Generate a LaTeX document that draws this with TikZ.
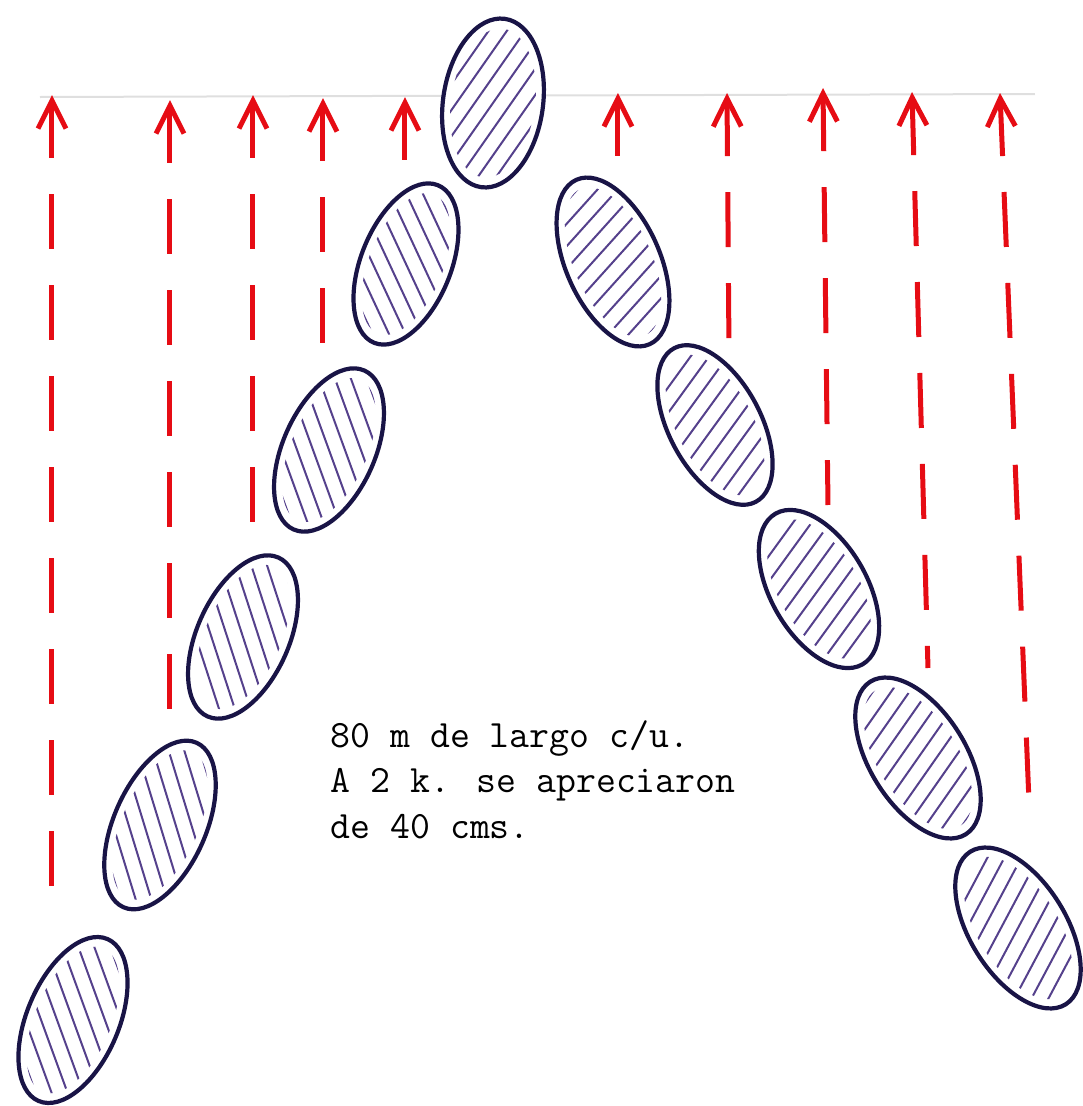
\documentclass[tikz,border=0pt]{standalone}
\usetikzlibrary{arrows.meta}
\definecolor{pen}{RGB}{230,12,20}
\definecolor{ink}{RGB}{25,20,70}
\definecolor{shade}{RGB}{85,65,140}
\begin{document}
\begin{tikzpicture}[x=0.1mm,y=0.1mm,
  flow/.style={draw=pen,line width=0.5mm,dash pattern=on 5.5mm off 3.6mm,{Straight Barb[length=2.8mm,width=2.8mm]}-},
  rim/.style={draw=ink,line width=0.42mm,fill=white},
  hatch/.style={draw=shade,line width=0.2mm},
  note/.style={anchor=base west,inner sep=0pt,font=\ttfamily\fontsize{11}{13}\selectfont}]
\useasboundingbox (0,0) rectangle (1083,1106);
% faint guide line
\draw[gray!25,line width=0.2mm] (40,1009) -- (1035,1012);
% arrows
\foreach \xa/\ya/\xb/\yb [count=\i] in {52/1011/52/186, 170/1006/170/378, 253/1011/253/558,
    323/1008/323/751, 405/1009/405/936, 618/1013/618/933, 727/1013/729/756,
    823/1018/828/601, 912/1014/928/438, 1000/1013/1030/280}{
  \coordinate (top\i) at (\xa,\ya);
  \coordinate (bot\i) at (\xb,\yb);
  \draw[flow] (top\i) -- (bot\i);
}
% leaves
\foreach \cx/\cy/\rx/\ry/\rot/\ang in {493/1003/50/85/-8/55, 406/842/45/85/-22/115,
    329/656/46/87/-24/110, 243/469/46/87/-24/108, 160/281/46/90/-24/107, 73/86/46/88/-23/110,
    613/844/47/90/24/48, 715/681/46/87/28/54, 819/517/48/87/30/54, 918/348/48/90/32/55,
    1018/178/48/90/32/62}{
  \draw[rim,rotate around={\rot:(\cx,\cy)}] (\cx,\cy) ellipse [x radius=\rx, y radius=\ry];
  \begin{scope}
    \clip[rotate around={\rot:(\cx,\cy)}] (\cx,\cy) ellipse [x radius=\rx-8, y radius=\ry-10];
    \draw[hatch,shift={(\cx,\cy)},rotate=\ang] \foreach \k in {-6,...,6}{(-120,\k*15) -- (120,\k*15)};
  \end{scope}
}
% text
\node[note] (line1) at (330,359) {80 m de largo c/u.};
\node[note] (line2) at (330,314) {A 2 k. se apreciaron};
\node[note] (line3) at (330,268) {de 40 cms.};
\end{tikzpicture}
\end{document}
